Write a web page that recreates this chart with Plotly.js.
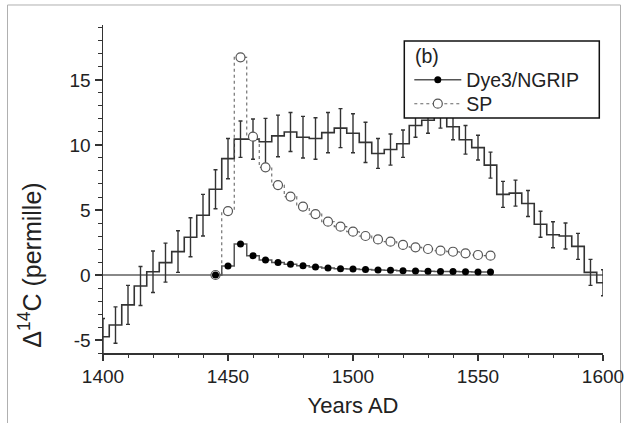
<!DOCTYPE html>
<html>
<head>
<meta charset="utf-8">
<script src="https://cdn.plot.ly/plotly-3.0.1.min.js"></script>
<style>
html,body{margin:0;padding:0;background:#fff;}
#chart{width:624px;height:423px;}
</style>
</head>
<body>
<div id="chart"></div>
<script>
// 5-year binned record (step histogram with error bars)
const histYears = [1400,1405,1410,1415,1420,1425,1430,1435,1440,1445,
                   1450,1455,1460,1465,1470,1475,1480,1485,1490,1495,
                   1500,1505,1510,1515,1520,1525,1530,1535,1540,1545,
                   1550,1555,1560,1565,1570,1575,1580,1585,1590,1595,1600];
const histValues = [-4.75,-3.85,-2.3,-0.85,0.25,0.95,1.8,2.9,4.6,6.6,
                    8.95,10.45,10.45,10.25,10.7,11.0,10.6,10.5,10.95,11.3,
                    10.9,10.2,9.35,9.65,10.1,11.5,11.9,12.3,11.4,10.4,
                    9.8,8.45,6.2,6.3,5.5,3.9,3.1,3.0,2.2,0.2,-0.6];
const histErrors = [1.4,1.4,1.5,1.5,1.6,1.5,1.6,1.5,1.6,1.5,
                    1.55,1.4,1.55,1.8,1.6,1.5,1.6,1.6,1.55,1.5,
                    1.5,1.55,1.15,1.2,1.05,0.9,1.0,1.0,1.0,1.1,
                    0.95,1.0,1.0,1.0,1.0,1.0,1.0,1.0,1.0,1.0,1.0];

// Model curves
const modelYears = [1445,1450,1455,1460,1465,1470,1475,1480,1485,1490,1495,
                    1500,1505,1510,1515,1520,1525,1530,1535,1540,1545,1550,1555];
const dye3Values = [0,0.69,2.38,1.49,1.15,0.97,0.82,0.72,0.62,0.54,0.49,
                    0.46,0.43,0.39,0.36,0.33,0.31,0.29,0.27,0.26,0.25,0.24,0.23];
const spValues   = [0,4.92,16.74,10.64,8.28,6.92,6.03,5.26,4.69,4.1,3.72,
                    3.33,3.0,2.74,2.56,2.31,2.13,2.0,1.87,1.79,1.67,1.54,1.49];

const seriesNames = ['Dye3/NGRIP','SP'];
const xTickVals = [1400,1450,1500,1550,1600];
const xTickText = ['1400','1450','1500','1550','1600'];
const yTickVals = [-5,0,5,10,15];
const yTickText = ['-5','0','5','10','15'];
const xTitle = 'Years AD';
const yTitle = 'Δ<sup>14</sup>C (permille)';
const panelLabel = '(b)';

const FONT = '"Liberation Sans", Arial, Helvetica, sans-serif';
const AX = '#333';
const XR = [1399.999, 1600.001];
const YR = [-6, 19.23];

const traces = [
  {
    x: histYears, y: histValues, type: 'scatter', mode: 'lines',
    line: {shape: 'hvh', color: '#333', width: 1.6},
    error_y: {type: 'data', array: histErrors, visible: true, color: '#333', thickness: 1.4, width: 2},
    showlegend: false, hoverinfo: 'skip'
  },
  {
    x: modelYears, y: spValues, type: 'scatter', mode: 'lines+markers',
    name: seriesNames[1], legend: 'legend2',
    line: {shape: 'hvh', color: '#666', width: 1.1, dash: 'dot'},
    marker: {symbol: 'circle', size: 9, color: '#fff', line: {color: '#555', width: 1.2}}
  },
  {
    x: modelYears, y: dye3Values, type: 'scatter', mode: 'lines+markers',
    name: seriesNames[0], legend: 'legend',
    line: {shape: 'hvh', color: '#555', width: 1.5},
    marker: {symbol: 'circle', size: 7, color: '#000'}
  }
];

const legendCommon = {
  x: 0.6126, xanchor: 'left', yanchor: 'middle',
  bgcolor: 'rgba(0,0,0,0)', borderwidth: 0,
  font: {family: FONT, size: 19.5, color: '#222'},
  itemwidth: 47
};

const layout = {
  width: 624, height: 423,
  margin: {l: 103, r: 21, t: 25, b: 70},
  paper_bgcolor: '#fff', plot_bgcolor: '#fff',
  font: {family: FONT, size: 19, color: '#222'},
  showlegend: true,
  legend: Object.assign({y: 0.8323}, legendCommon),
  legend2: Object.assign({y: 0.7591}, legendCommon),
  xaxis: {
    range: XR, tickmode: 'array', tickvals: xTickVals, ticktext: xTickText,
    ticks: 'outside', ticklen: 6, tickwidth: 1.2, tickcolor: AX, ticklabeloverflow: 'allow',
    minor: {tickmode: 'linear', tick0: 1400, dtick: 10, ticks: 'outside', ticklen: 3.5, tickwidth: 1, tickcolor: AX},
    showline: true, linecolor: AX, linewidth: 1.5, showgrid: false, zeroline: false,
    tickfont: {family: FONT, size: 19, color: '#222'},
    title: {text: xTitle, font: {family: FONT, size: 22, color: '#222'}, standoff: 11}
  },
  yaxis: {
    range: YR, tickmode: 'array', tickvals: yTickVals, ticktext: yTickText,
    ticks: 'outside', ticklen: 7, tickwidth: 1.2, tickcolor: AX,
    minor: {tickmode: 'linear', tick0: 0, dtick: 1, ticks: 'outside', ticklen: 3.5, tickwidth: 1, tickcolor: AX},
    showline: true, linecolor: AX, linewidth: 1.5, showgrid: false,
    zeroline: true, zerolinecolor: '#888', zerolinewidth: 1.3,
    tickfont: {family: FONT, size: 19, color: '#222'}
  },
  xaxis2: {
    overlaying: 'x', side: 'top', anchor: 'y', range: XR,
    tickmode: 'array', tickvals: xTickVals, ticks: 'inside', ticklen: 6, tickwidth: 1.2, tickcolor: AX,
    minor: {tickmode: 'linear', tick0: 1400, dtick: 10, ticks: 'inside', ticklen: 3.5, tickwidth: 1, tickcolor: AX},
    showticklabels: false, showline: true, linecolor: AX, linewidth: 1.5, showgrid: false, zeroline: false
  },
  yaxis2: {
    overlaying: 'y', side: 'right', anchor: 'x', range: YR,
    tickmode: 'array', tickvals: yTickVals, ticks: 'inside', ticklen: 6, tickwidth: 1.2, tickcolor: AX,
    minor: {tickmode: 'linear', tick0: 0, dtick: 1, ticks: 'inside', ticklen: 3.5, tickwidth: 1, tickcolor: AX},
    showticklabels: false, showline: true, linecolor: AX, linewidth: 1.5, showgrid: false, zeroline: false
  },
  shapes: [
    {type: 'rect', xref: 'paper', yref: 'paper', x0: -0.191, x1: 1.035, y0: -0.3, y1: 1.061,
     line: {color: '#b0b0b0', width: 1}, layer: 'below'},
    {type: 'rect', xref: 'paper', yref: 'paper', x0: 0.6026, x1: 0.9926, y0: 0.7165, y1: 0.951,
     line: {color: '#111', width: 1.5}, fillcolor: '#fff', layer: 'above'}
  ],
  annotations: [
    {text: panelLabel, xref: 'paper', yref: 'paper', x: 0.6206, y: 0.9055,
     xanchor: 'left', yanchor: 'middle', showarrow: false,
     font: {family: FONT, size: 19.5, color: '#222'}},
    {text: yTitle, xref: 'paper', yref: 'paper', x: -0.145, y: 0.01,
     xanchor: 'center', yanchor: 'bottom', textangle: -90, showarrow: false,
     font: {family: FONT, size: 25, color: '#222'}}
  ]
};

Plotly.newPlot('chart', traces, layout, {staticPlot: true, displayModeBar: false});
</script>
</body>
</html>
